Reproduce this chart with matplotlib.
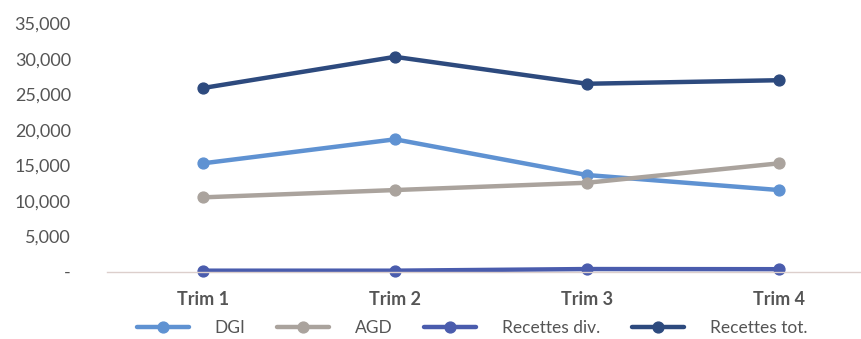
import matplotlib.pyplot as plt
from matplotlib.ticker import FuncFormatter

# Recettes trimestrielles
trimestres = ['Trim 1', 'Trim 2', 'Trim 3', 'Trim 4']
dgi = [15270, 18660, 13620, 11500]
agd = [10470, 11500, 12530, 15270]
recettes_div = [120, 120, 350, 330]
recettes_tot = [25900, 30300, 26500, 27000]

series = [
    ('DGI', dgi, '#5f92d2'),
    ('AGD', agd, '#aaa39d'),
    ('Recettes div.', recettes_div, '#4a5cad'),
    ('Recettes tot.', recettes_tot, '#2d4a7e'),
]

plt.rcParams['font.family'] = ['Lato', 'DejaVu Sans']

fig = plt.figure(figsize=(8.61, 3.39), dpi=100)
ax = fig.add_axes([0.1243, 0.199, 0.892, 0.7316])

x = range(len(trimestres))
for nom, vals, col in series:
    ax.plot(x, vals, color=col, lw=3.2, marker='o', ms=7.8, label=nom,
            solid_capstyle='round', clip_on=False)

ax.set_xlim(-0.5, 3.5)
ax.set_ylim(0, 35000)
ax.set_yticks(range(0, 35001, 5000))
ax.yaxis.set_major_formatter(FuncFormatter(lambda v, p: '-' if v == 0 else f'{v:,.0f}'))
ax.set_xticks(list(x))
ax.set_xticklabels(trimestres, fontweight='bold')

for s in ['top', 'right', 'left']:
    ax.spines[s].set_visible(False)
ax.spines['bottom'].set_color('#dccfcc')
ax.spines['bottom'].set_linewidth(1.0)
ax.tick_params(axis='both', length=0, colors='#555555', labelsize=13)
ax.tick_params(axis='y', pad=26)
ax.tick_params(axis='x', pad=14)

ax.legend(loc='center', bbox_to_anchor=(0.548, 0.033), bbox_transform=fig.transFigure,
          ncol=4, frameon=False, fontsize=12.5, handlelength=3.0,
          handletextpad=1.5, columnspacing=1.8, labelcolor='#555555')

fig.savefig('out.png', dpi=100)
